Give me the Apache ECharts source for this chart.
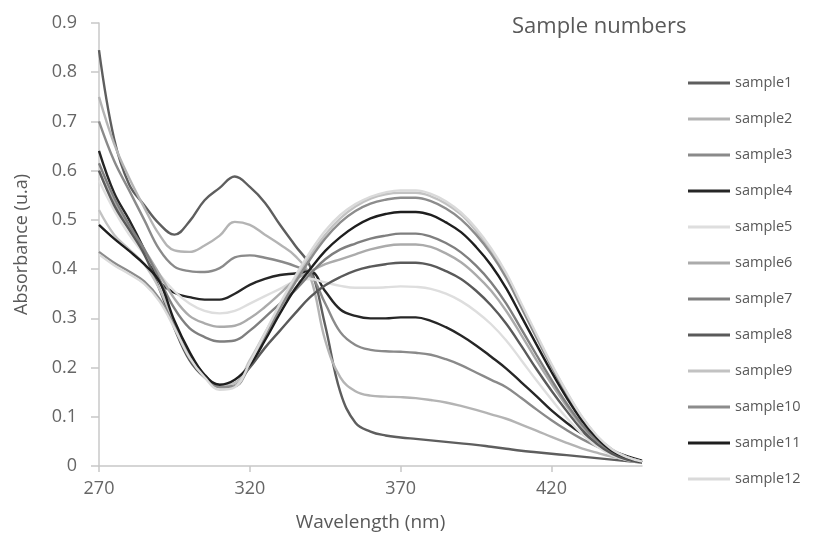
<!DOCTYPE html>
<html>
<head>
<meta charset="utf-8">
<script src="https://cdn.jsdelivr.net/npm/echarts@6/dist/echarts.min.js"></script>
<style>html,body{margin:0;padding:0;background:#fff}#c{width:814px;height:537px}</style>
</head>
<body>
<div id="c"></div>
<script>
const wavelengths = [270,275,280,285,290,295,300,305,310,315,320,325,330,335,340,345,350,355,360,365,370,375,380,385,390,395,400,405,410,415,420,425,430,435,440,445,450];
const xTicks = [270,320,370,420];
const sampleNames = ['sample1','sample2','sample3','sample4','sample5','sample6','sample7','sample8','sample9','sample10','sample11','sample12'];
const sampleColors = ['#5e5e5e','#b4b4b4','#8a8a8a','#262626','#dedede','#ababab','#7f7f7f','#5a5a5a','#c2c2c2','#8c8c8c','#1e1e1e','#dadada'];

const sample1 = [0.845,0.665,0.572,0.530,0.492,0.470,0.497,0.540,0.565,0.588,0.567,0.535,0.490,0.448,0.405,0.285,0.150,0.088,0.070,0.062,0.058,0.055,0.052,0.049,0.046,0.043,0.039,0.035,0.031,0.028,0.025,0.022,0.019,0.016,0.013,0.010,0.007];
const sample2 = [0.750,0.655,0.585,0.525,0.470,0.438,0.435,0.448,0.468,0.496,0.490,0.470,0.450,0.427,0.385,0.255,0.180,0.152,0.143,0.141,0.140,0.138,0.134,0.129,0.122,0.114,0.105,0.096,0.084,0.072,0.059,0.047,0.036,0.027,0.019,0.013,0.008];
const sample3 = [0.700,0.620,0.560,0.500,0.440,0.405,0.396,0.394,0.402,0.424,0.428,0.423,0.416,0.406,0.390,0.330,0.272,0.246,0.236,0.233,0.232,0.230,0.226,0.217,0.205,0.190,0.175,0.160,0.138,0.115,0.093,0.073,0.055,0.040,0.027,0.016,0.009];
const sample4 = [0.640,0.555,0.500,0.440,0.375,0.352,0.343,0.338,0.338,0.350,0.368,0.380,0.388,0.391,0.395,0.355,0.318,0.305,0.300,0.300,0.302,0.302,0.295,0.282,0.265,0.245,0.222,0.198,0.170,0.142,0.113,0.088,0.066,0.048,0.032,0.020,0.011];
const sample5 = [0.580,0.520,0.470,0.430,0.390,0.355,0.330,0.315,0.310,0.315,0.330,0.345,0.360,0.375,0.380,0.373,0.366,0.362,0.362,0.363,0.365,0.364,0.360,0.350,0.335,0.314,0.288,0.255,0.215,0.174,0.135,0.098,0.066,0.040,0.022,0.012,0.006];
const sample6 = [0.600,0.535,0.485,0.440,0.390,0.340,0.305,0.290,0.283,0.285,0.300,0.323,0.350,0.378,0.395,0.410,0.420,0.430,0.440,0.447,0.450,0.450,0.445,0.432,0.414,0.388,0.356,0.315,0.266,0.215,0.167,0.122,0.081,0.050,0.027,0.014,0.007];
const sample7 = [0.615,0.545,0.490,0.440,0.380,0.320,0.280,0.262,0.253,0.255,0.275,0.302,0.330,0.357,0.390,0.420,0.440,0.452,0.462,0.468,0.472,0.472,0.466,0.453,0.434,0.407,0.373,0.330,0.278,0.226,0.175,0.127,0.085,0.052,0.029,0.015,0.008];
const sample8 = [0.600,0.530,0.480,0.430,0.360,0.280,0.215,0.180,0.163,0.168,0.200,0.240,0.275,0.310,0.343,0.367,0.384,0.397,0.405,0.410,0.413,0.413,0.408,0.396,0.380,0.356,0.326,0.289,0.244,0.197,0.153,0.112,0.074,0.045,0.025,0.013,0.007];
const sample9 = [0.520,0.470,0.440,0.410,0.360,0.290,0.225,0.185,0.165,0.168,0.215,0.270,0.325,0.378,0.428,0.470,0.503,0.527,0.543,0.552,0.555,0.555,0.548,0.533,0.511,0.478,0.438,0.389,0.327,0.265,0.205,0.150,0.100,0.061,0.034,0.018,0.009];
const sample10 = [0.435,0.413,0.395,0.375,0.340,0.285,0.225,0.185,0.160,0.162,0.205,0.262,0.320,0.372,0.420,0.462,0.495,0.518,0.533,0.541,0.545,0.545,0.538,0.523,0.501,0.470,0.431,0.382,0.322,0.261,0.202,0.147,0.098,0.060,0.033,0.017,0.009];
const sample11 = [0.490,0.462,0.437,0.410,0.375,0.295,0.232,0.185,0.165,0.175,0.205,0.255,0.310,0.360,0.400,0.437,0.465,0.487,0.503,0.512,0.516,0.516,0.510,0.495,0.475,0.445,0.408,0.361,0.304,0.247,0.191,0.139,0.093,0.057,0.031,0.017,0.008];
const sample12 = [0.430,0.408,0.390,0.370,0.335,0.280,0.220,0.180,0.155,0.160,0.210,0.270,0.330,0.385,0.435,0.478,0.510,0.532,0.547,0.556,0.560,0.560,0.553,0.538,0.515,0.483,0.442,0.392,0.330,0.268,0.207,0.151,0.101,0.062,0.034,0.018,0.009];

const allSamples = [sample1,sample2,sample3,sample4,sample5,sample6,sample7,sample8,sample9,sample10,sample11,sample12];
const FONT = '"Open Sans", "Noto Sans", sans-serif';

const chart = echarts.init(document.getElementById('c'), null, {renderer: 'canvas'});
chart.setOption({
  animation: false,
  backgroundColor: '#ffffff',
  title: {
    text: 'Sample numbers',
    left: 512, top: 16, padding: 0,
    textStyle: {fontFamily: FONT, fontSize: 22, fontWeight: 'normal', color: '#595959'}
  },
  legend: {
    orient: 'vertical',
    left: 688, top: 75, padding: 0,
    icon: 'rect',
    itemWidth: 42, itemHeight: 3, itemGap: 20,
    data: sampleNames,
    textStyle: {fontFamily: FONT, fontSize: 14.5, color: '#595959', lineHeight: 16}
  },
  grid: {left: 99, right: 172, top: 23, bottom: 71, containLabel: false},
  xAxis: {
    type: 'value', min: 270, max: 450,
    name: 'Wavelength (nm)', nameLocation: 'middle', nameGap: 47,
    nameTextStyle: {fontFamily: FONT, fontSize: 19, color: '#595959'},
    axisLine: {show: true, lineStyle: {color: '#c8c8c8', width: 1.5}},
    axisTick: {show: true, length: 6, lineStyle: {color: '#c8c8c8', width: 1.5}, customValues: xTicks},
    axisLabel: {customValues: xTicks, margin: 14, fontFamily: FONT, fontSize: 18, color: '#666666'},
    splitLine: {show: false}
  },
  yAxis: {
    type: 'value', min: 0, max: 0.9, interval: 0.1,
    name: 'Absorbance (u.a)', nameLocation: 'middle', nameGap: 68,
    nameTextStyle: {fontFamily: FONT, fontSize: 18, color: '#595959'},
    axisLine: {show: true, lineStyle: {color: '#c8c8c8', width: 1.5}},
    axisTick: {show: true, length: 8, lineStyle: {color: '#c8c8c8', width: 1.5}},
    axisLabel: {margin: 22, fontFamily: FONT, fontSize: 18, color: '#666666',
      formatter: v => String(Math.round(v * 10) / 10)},
    splitLine: {show: false}
  },
  series: sampleNames.map((name, i) => ({
    name: name,
    type: 'line',
    smooth: 0.4,
    symbol: 'none',
    color: sampleColors[i],
    itemStyle: {color: sampleColors[i]},
    lineStyle: {width: 2.4, color: sampleColors[i]},
    data: wavelengths.map((w, j) => [w, allSamples[i][j]])
  }))
});
</script>
</body>
</html>
